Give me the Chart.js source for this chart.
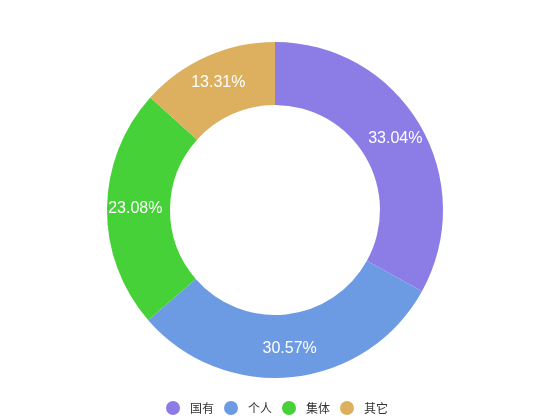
<!DOCTYPE html>
<html>
<head>
<meta charset="utf-8">
<script src="https://cdn.jsdelivr.net/npm/chart.js@4"></script>
<style>
  html, body { margin: 0; padding: 0; background: #fff; }
  #wrap { width: 550px; height: 420px; }
</style>
</head>
<body>
<div id="wrap"><canvas id="myChart"></canvas></div>
<script>
// chart data
const categories = ['国有', '个人', '集体', '其它'];
const shares = [33.04, 30.57, 23.08, 13.31];
const sliceColors = ['#8c7ce6', '#6d9be3', '#45d137', '#dcb05f'];

// small round marker for the legend (drawn as an image so the gap to the text can be wider)
function makeDot(color) {
    const c = document.createElement('canvas');
    c.width = 14;
    c.height = 14;
    const g = c.getContext('2d');
    g.fillStyle = color;
    g.beginPath();
    g.arc(7, 7, 7, 0, Math.PI * 2);
    g.fill();
    return c;
}
const dots = sliceColors.map(makeDot);

// draws the percentage inside each ring slice
const sliceLabels = {
    id: 'sliceLabels',
    afterDatasetsDraw(chart) {
        const ctx = chart.ctx;
        const meta = chart.getDatasetMeta(0);
        const total = shares.reduce((a, b) => a + b, 0);
        ctx.save();
        ctx.fillStyle = '#fff';
        ctx.font = '16px "Liberation Sans", Arial, sans-serif';
        ctx.textAlign = 'center';
        ctx.textBaseline = 'middle';
        meta.data.forEach((arc, i) => {
            const p = arc.getProps(['x', 'y', 'startAngle', 'endAngle', 'innerRadius', 'outerRadius'], true);
            const mid = (p.startAngle + p.endAngle) / 2;
            const r = p.innerRadius + (p.outerRadius - p.innerRadius) * 0.55;
            const pct = (shares[i] / total * 100).toFixed(2) + '%';
            ctx.fillText(pct, p.x + Math.cos(mid) * r, p.y + Math.sin(mid) * r);
        });
        ctx.restore();
    }
};

new Chart(document.getElementById('myChart'), {
    type: 'doughnut',
    data: {
        labels: categories,
        datasets: [{
            data: shares,
            backgroundColor: sliceColors,
            borderWidth: 0,
            radius: 168,
            cutout: '62.5%'
        }]
    },
    options: {
        responsive: true,
        maintainAspectRatio: false,
        animation: false,
        layout: { padding: { top: 24, bottom: -4 } },
        plugins: {
            legend: {
                position: 'bottom',
                labels: {
                    usePointStyle: true,
                    pointStyleWidth: 22,
                    boxHeight: 12,
                    padding: 6,
                    color: '#333',
                    font: { size: 12, family: '"Noto Sans CJK SC", sans-serif' },
                    generateLabels(chart) {
                        const items = Chart.overrides.doughnut.plugins.legend.labels.generateLabels(chart);
                        items.forEach((it, i) => { it.pointStyle = dots[i]; });
                        return items;
                    }
                }
            },
            tooltip: { enabled: false }
        }
    },
    plugins: [sliceLabels]
});
</script>
</body>
</html>
